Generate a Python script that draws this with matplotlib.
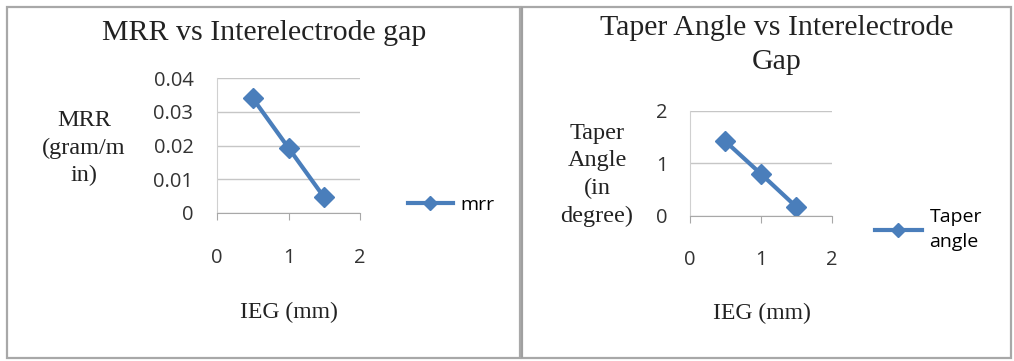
import matplotlib.pyplot as plt
from matplotlib.patches import Rectangle
from matplotlib.ticker import FuncFormatter

# data
ieg = [0.5, 1.0, 1.5]
mrr = [0.034, 0.0193, 0.0046]
taper = [1.42, 0.80, 0.17]

mrr_yticks = [0, 0.01, 0.02, 0.03, 0.04]
taper_yticks = [0, 1, 2]
xticks = [0, 1, 2]

blue = "#4A7EBB"
grid = "#C6C6C6"
serif = "Liberation Serif"
sans = "Open Sans"

fig = plt.figure(figsize=(10.14, 3.61), dpi=100)

# panel frames
fig.patches.append(Rectangle((7 / 1014, 3 / 361), 513 / 1014, 351 / 361, transform=fig.transFigure,
                             fill=False, edgecolor="#A8A8A8", lw=1.6))
fig.patches.append(Rectangle((522 / 1014, 3 / 361), 489 / 1014, 351 / 361, transform=fig.transFigure,
                             fill=False, edgecolor="#A8A8A8", lw=1.6))
fig.patches.append(Rectangle((520.5 / 1014, 3 / 361), 2.5 / 1014, 351 / 361, transform=fig.transFigure,
                             color="#A0A0A0", lw=0))


def style(ax, yticks, ypad):
    ax.set_xlim(0, 2)
    ax.set_ylim(yticks[0], yticks[-1])
    ax.set_xticks(xticks)
    ax.set_yticks(yticks)
    ax.yaxis.set_major_formatter(FuncFormatter(lambda v, p: "%g" % v))
    ax.grid(axis="y", color=grid, lw=1)
    ax.set_axisbelow(True)
    for s in ["top", "right"]:
        ax.spines[s].set_visible(False)
    ax.spines["left"].set_color("#D0D0D0")
    ax.spines["bottom"].set_color("#A8A8A8")
    ax.tick_params(axis="x", length=5, color="#A8A8A8", pad=20, labelsize=14.5, labelcolor="#333333")
    ax.tick_params(axis="y", length=0, pad=ypad, labelsize=14.5, labelcolor="#333333")
    for lab in ax.get_xticklabels() + ax.get_yticklabels():
        lab.set_family(sans)


# left chart: MRR
ax1 = fig.add_axes([217 / 1014, 1 - 213 / 361, 143 / 1014, 135 / 361])
ax1.plot(ieg, mrr, color=blue, lw=3, marker="D", ms=10.5, label="mrr")
style(ax1, mrr_yticks, 17)
ax1.set_ylabel("MRR\n(gram/m\nin)", rotation=0, family=serif, fontsize=17.5, linespacing=1.38,
               ha="center", va="center", color="#222222")
ax1.yaxis.set_label_coords(-0.93, 0.48)
ax1.set_xlabel("IEG (mm)", family=serif, fontsize=17, color="#222222")
ax1.xaxis.set_label_coords(0.5, -0.66)
ax1.legend(loc="center left", bbox_to_anchor=(1.336, 0.06), frameon=False, borderpad=0,
           borderaxespad=0, handlelength=2.3, handletextpad=0.4, markerscale=0.7,
           prop={"family": sans, "size": 14})
fig.text(264 / 1014, 1 - 33 / 361, "MRR vs Interelectrode gap", family=serif, fontsize=21.5,
         ha="center", va="center", color="#222222")

# right chart: taper angle
ax2 = fig.add_axes([690 / 1014, 1 - 215.7 / 361, 141.7 / 1014, 104.7 / 361])
ax2.plot(ieg, taper, color=blue, lw=3, marker="D", ms=10.5, label="Taper\nangle")
style(ax2, taper_yticks, 16)
ax2.set_ylabel("Taper\nAngle\n(in\ndegree)", rotation=0, family=serif, fontsize=17.5, linespacing=1.4,
               ha="center", va="center", color="#222222")
ax2.yaxis.set_label_coords(-0.656, 0.39)
ax2.set_xlabel("IEG (mm)", family=serif, fontsize=17, color="#222222")
ax2.xaxis.set_label_coords(0.508, -0.834)
leg = ax2.legend(loc="center left", bbox_to_anchor=(1.306, -0.13), frameon=False, borderpad=0,
                 borderaxespad=0, handlelength=2.4, handletextpad=0.4, markerscale=0.7,
                 prop={"family": sans, "size": 14})
for t in leg.get_texts():
    t.set_linespacing(1.5)
fig.text(777 / 1014, 1 - 45 / 361, "Taper Angle vs Interelectrode\nGap", family=serif, fontsize=21.5,
         ha="center", va="center", linespacing=1.37, color="#222222")

fig.savefig("out.png", dpi=100)
